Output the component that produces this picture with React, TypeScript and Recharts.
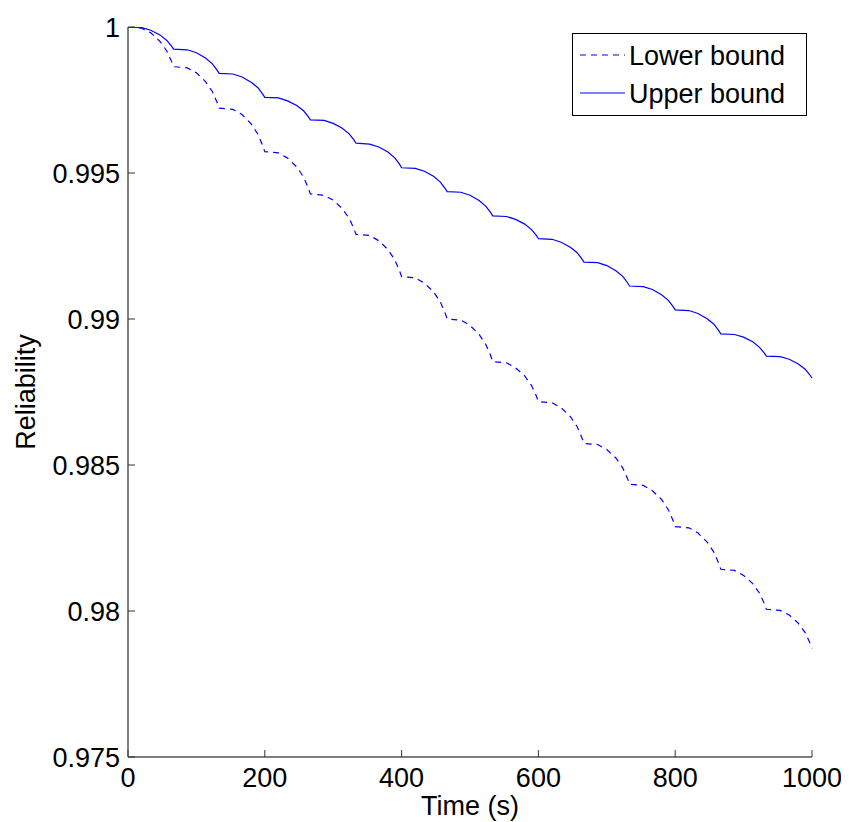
import React from 'react';
import { LineChart, Line, XAxis, YAxis, Legend } from 'recharts';

const timeSec = [
  0, 20, 33.3, 46.7, 56.7, 63.3,
  66.7, 86.7, 100, 113.3, 123.3, 130,
  133.3, 153.3, 166.7, 180, 190, 196.7,
  200, 220, 233.3, 246.7, 256.7, 263.3,
  266.7, 286.7, 300, 313.3, 323.3, 330,
  333.3, 353.3, 366.7, 380, 390, 396.7,
  400, 420, 433.3, 446.7, 456.7, 463.3,
  466.7, 486.7, 500, 513.3, 523.3, 530,
  533.3, 553.3, 566.7, 580, 590, 596.7,
  600, 620, 633.3, 646.7, 656.7, 663.3,
  666.7, 686.7, 700, 713.3, 723.3, 730,
  733.3, 753.3, 766.7, 780, 790, 796.7,
  800, 820, 833.3, 846.7, 856.7, 863.3,
  866.7, 886.7, 900, 913.3, 923.3, 930,
  933.3, 953.3, 966.7, 980, 990, 996.7,
  1000,
];

const upperBound = [
  1.0, 0.99998, 0.99989, 0.99973, 0.99954, 0.99935,
  0.99924, 0.99922, 0.99912, 0.99894, 0.99874, 0.99853,
  0.99841, 0.99839, 0.99829, 0.99811, 0.99792, 0.99771,
  0.99759, 0.99757, 0.99747, 0.99731, 0.99713, 0.99694,
  0.99682, 0.9968, 0.9967, 0.99653, 0.99634, 0.99614,
  0.99602, 0.99599, 0.99589, 0.99572, 0.99552, 0.99531,
  0.99518, 0.99516, 0.99506, 0.99489, 0.99469, 0.99448,
  0.99436, 0.99434, 0.99424, 0.99406, 0.99386, 0.99365,
  0.99353, 0.99351, 0.99341, 0.99325, 0.99306, 0.99287,
  0.99275, 0.99273, 0.99263, 0.99246, 0.99227, 0.99207,
  0.99195, 0.99193, 0.99183, 0.99165, 0.99146, 0.99125,
  0.99113, 0.99111, 0.99101, 0.99083, 0.99064, 0.99043,
  0.99031, 0.99029, 0.99019, 0.99001, 0.98982, 0.98961,
  0.98949, 0.98947, 0.98938, 0.98922, 0.98903, 0.98884,
  0.98873, 0.98871, 0.98862, 0.98846, 0.98828, 0.98809,
  0.98798,
];

const lowerBound = [
  1.0, 0.99996, 0.9998, 0.99951, 0.99918, 0.99884,
  0.99864, 0.9986, 0.99843, 0.99813, 0.99779, 0.99743,
  0.99722, 0.99718, 0.997, 0.99668, 0.99633, 0.99595,
  0.99573, 0.99569, 0.99551, 0.99521, 0.99486, 0.9945,
  0.99428, 0.99424, 0.99407, 0.99378, 0.99345, 0.99311,
  0.9929, 0.99286, 0.99268, 0.99238, 0.99203, 0.99167,
  0.99145, 0.99141, 0.99123, 0.99093, 0.99058, 0.99022,
  0.99, 0.98996, 0.98978, 0.98947, 0.98912, 0.98876,
  0.98854, 0.9885, 0.98833, 0.98805, 0.98772, 0.98738,
  0.98717, 0.98713, 0.98696, 0.98666, 0.98631, 0.98595,
  0.98574, 0.9857, 0.98553, 0.98524, 0.9849, 0.98455,
  0.98434, 0.9843, 0.98412, 0.98382, 0.98347, 0.98311,
  0.98289, 0.98285, 0.98267, 0.98236, 0.98201, 0.98165,
  0.98143, 0.98139, 0.98122, 0.98094, 0.98061, 0.98027,
  0.98006, 0.98002, 0.97986, 0.97958, 0.97926, 0.97892,
  0.97872,
];

const xTicks = [0, 200, 400, 600, 800, 1000];
const yTicks = [0.975, 0.98, 0.985, 0.99, 0.995, 1];
const yTickLabels = ['0.975', '0.98', '0.985', '0.99', '0.995', '1'];
const seriesNames = ['Lower bound', 'Upper bound'];

const data = timeSec.map((t, i) => ({ t, lower: lowerBound[i], upper: upperBound[i] }));

const FONT = '"Liberation Sans", Arial, Helvetica, sans-serif';
const FS = 27;
const BLUE = '#0000ff';
const AXIS = '#555555';

const LegendBox = () => (
  <svg width={236} height={84} style={{ display: 'block' }}>
    <rect x={0.5} y={0.5} width={234} height={82} fill="#ffffff" stroke="#000000" strokeWidth={1} />
    <line x1={8} y1={22} x2={53} y2={22} stroke={BLUE} strokeWidth={1} strokeDasharray="6 5" />
    <text x={57} y={22} dy="0.36em" fontFamily={FONT} fontSize={FS} fill="#000">{seriesNames[0]}</text>
    <line x1={8} y1={60} x2={53} y2={60} stroke={BLUE} strokeWidth={1} />
    <text x={57} y={60} dy="0.36em" fontFamily={FONT} fontSize={FS} fill="#000">{seriesNames[1]}</text>
  </svg>
);

export default function App() {
  return (
    <div style={{ width: 841, height: 814, background: '#fff' }}>
      <LineChart
        width={841}
        height={814}
        data={data}
        margin={{ top: 19, right: 37, bottom: 0, left: 0 }}
        style={{ fontFamily: FONT }}
      >
        <XAxis
          dataKey="t"
          type="number"
          domain={[0, 1000]}
          ticks={xTicks}
          interval={0}
          height={65}
          tickSize={-7}
          tickMargin={18}
          axisLine={{ stroke: AXIS, strokeWidth: 1.5 }}
          tickLine={{ stroke: '#333', strokeWidth: 1 }}
          tick={{ fill: '#000', fontSize: FS, fontFamily: FONT }}
          label={{ value: 'Time (s)', position: 'insideBottom', offset: 7, fill: '#000', fontSize: FS, fontFamily: FONT }}
        />
        <YAxis
          type="number"
          domain={[0.975, 1]}
          ticks={yTicks}
          interval={0}
          width={120}
          tickSize={-7}
          tickMargin={15}
          allowDataOverflow
          tickFormatter={(v: number) => yTickLabels[yTicks.findIndex((y) => Math.abs(y - v) < 1e-9)] ?? String(v)}
          axisLine={{ stroke: AXIS, strokeWidth: 1.5 }}
          tickLine={{ stroke: '#333', strokeWidth: 1 }}
          tick={{ fill: '#000', fontSize: FS, fontFamily: FONT }}
          label={{ value: 'Reliability', angle: -90, position: 'insideLeft', offset: 17, fill: '#000', fontSize: FS, fontFamily: FONT, style: { textAnchor: 'middle' } }}
        />
        <Legend
          layout="horizontal"
          verticalAlign="middle"
          align="center"
          content={() => <LegendBox />}
          wrapperStyle={{ position: 'absolute', left: 564, top: 25, width: 236, height: 84 }}
        />
        <Line
          name={seriesNames[0]}
          dataKey="lower"
          type="linear"
          stroke={BLUE}
          strokeWidth={1.2}
          strokeDasharray="6 5"
          dot={false}
          activeDot={false}
          isAnimationActive={false}
        />
        <Line
          name={seriesNames[1]}
          dataKey="upper"
          type="linear"
          stroke={BLUE}
          strokeWidth={1.2}
          dot={false}
          activeDot={false}
          isAnimationActive={false}
        />
      </LineChart>
    </div>
  );
}
